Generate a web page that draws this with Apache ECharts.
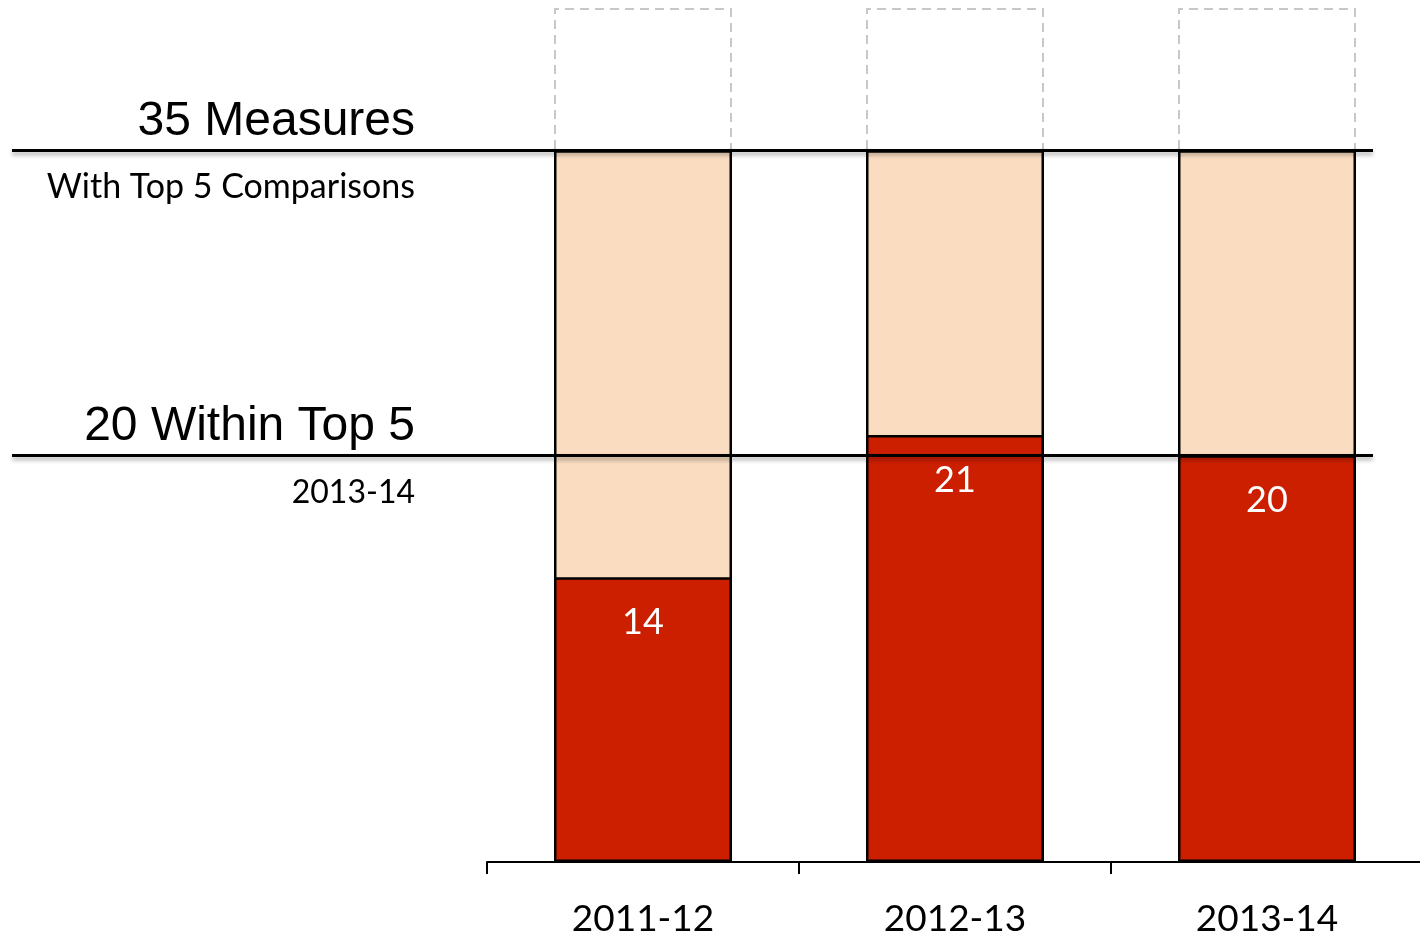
<!DOCTYPE html>
<html><head><meta charset="utf-8">
<script src="https://cdn.jsdelivr.net/npm/echarts@6/dist/echarts.min.js"></script>
<style>html,body{margin:0;padding:0;background:#fff}#c{width:1420px;height:938px}</style>
</head><body><div id="c"></div>
<script>
var categories = ['2011-12', '2012-13', '2013-14'];
var withinTop5 = [14, 21, 20];
var withComparisons = [35, 35, 35];
var allMeasures = [42, 42, 42];
var referenceLevels = [35, 20];
var levelTitles = ['35 Measures', '20 Within Top 5'];
var levelSubtitles = ['With Top 5 Comparisons', '2013-14'];
var subtitleSizes = [34, 32];

var RED = '#CC1F00', PEACH = '#FADDC1';
var chart = echarts.init(document.getElementById('c'), null, {renderer: 'canvas'});
var grids = [
  {left: 487, width: 936, top: 8, height: 854, containLabel: false, outerBoundsMode: 'none'},
  {left: 12, right: 47, top: 8, height: 854, outerBoundsMode: 'none'}
];
chart.setOption({
  animation: false,
  backgroundColor: '#fff',
  grid: grids,
  xAxis: [
    {type: 'category', gridIndex: 0, data: categories,
     axisLine: {lineStyle: {color: '#000', width: 2}},
     axisTick: {show: true, length: 12, lineStyle: {color: '#000', width: 2}},
     axisLabel: {color: '#000', fontFamily: 'Lato', fontSize: 37, margin: 39}},
    {type: 'value', gridIndex: 1, min: 0, max: 1, show: false}
  ],
  yAxis: [
    {type: 'value', gridIndex: 0, min: 0, max: 42, show: false, splitLine: {show: false}},
    {type: 'value', gridIndex: 1, min: 0, max: 42, show: false, splitLine: {show: false}}
  ],
  series: [
    {type: 'bar', name: 'all', xAxisIndex: 0, yAxisIndex: 0, data: allMeasures, barWidth: 178, barGap: '-100%',
     itemStyle: {color: 'rgba(255,255,255,0)', borderColor: '#C8C8C8', borderWidth: 2, borderType: [9, 6]}, z: 2},
    {type: 'bar', name: 'comparisons', xAxisIndex: 0, yAxisIndex: 0, data: withComparisons, barWidth: 178, barGap: '-100%',
     itemStyle: {color: PEACH, borderColor: '#000', borderWidth: 2.5}, z: 3},
    {type: 'bar', name: 'top5', xAxisIndex: 0, yAxisIndex: 0, data: withinTop5, barWidth: 178, barGap: '-100%',
     itemStyle: {color: RED, borderColor: '#000', borderWidth: 2.5}, z: 4,
     label: {show: true, position: ['50%', 45], align: 'center', verticalAlign: 'middle',
             color: '#fff', fontFamily: 'Lato', fontSize: 36}},
    {type: 'line', xAxisIndex: 1, yAxisIndex: 1, data: [], z: 10,
     markLine: {silent: true, symbol: 'none', label: {show: false},
       lineStyle: {color: '#000', width: 3, type: 'solid', shadowColor: 'rgba(0,0,0,0.35)', shadowBlur: 4, shadowOffsetY: 3},
       data: referenceLevels.map(function (v) { return {yAxis: v}; })}}
  ]
});

var graphics = [];
referenceLevels.forEach(function (v, i) {
  var y = chart.convertToPixel({yAxisIndex: 1}, v);
  graphics.push({type: 'text', x: 415, y: y - 28.5, style: {text: levelTitles[i], align: 'right', verticalAlign: 'middle',
    fill: '#000', font: '48px "Liberation Sans"'}});
  graphics.push({type: 'text', x: 415, y: y + 37, style: {text: levelSubtitles[i], align: 'right', verticalAlign: 'middle',
    fill: '#000', font: subtitleSizes[i] + 'px Lato'}});
});
chart.setOption({graphic: graphics});
</script>
</body></html>
